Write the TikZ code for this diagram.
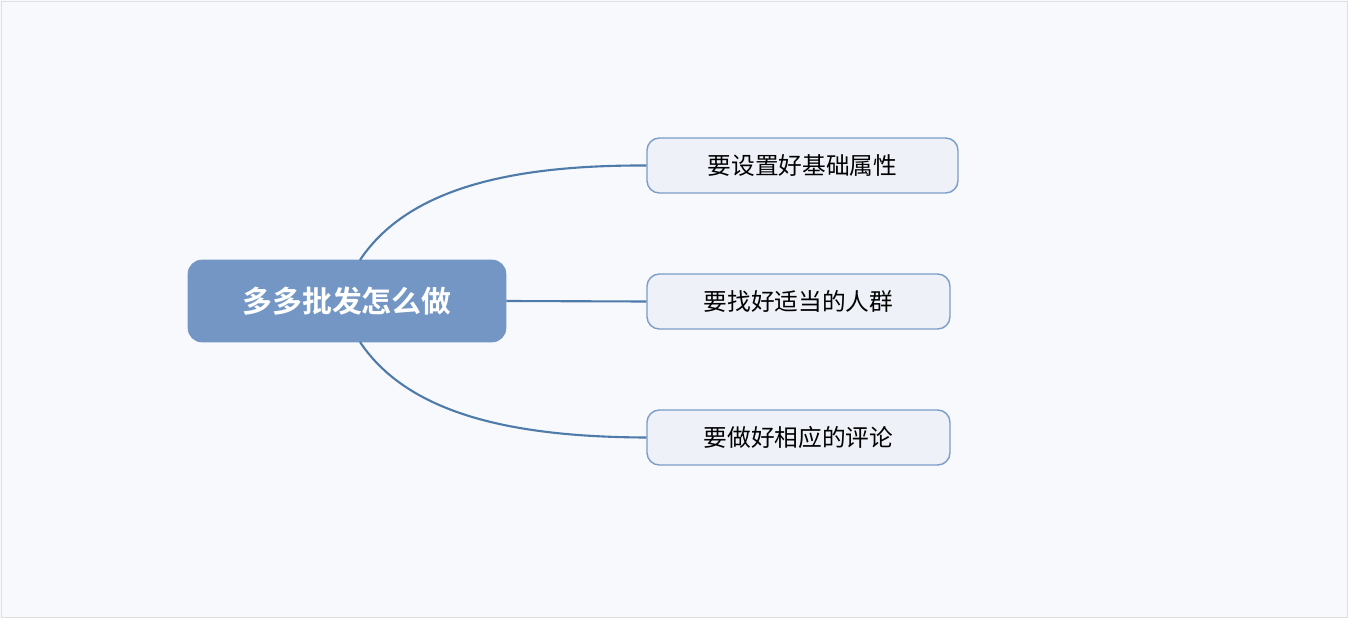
\documentclass[tikz,border=0pt]{standalone}
\usepackage{fontspec}
\newfontfamily\cjk{Noto Sans CJK SC}
\newfontfamily\cjkbold{Noto Sans CJK SC Bold}
\usetikzlibrary{positioning}
\definecolor{rootfill}{HTML}{7396C4}
\definecolor{leaffill}{HTML}{EEF2F8}
\definecolor{leafline}{HTML}{7A9CC8}
\definecolor{linkcol}{HTML}{4F7BAA}
\definecolor{bgcol}{HTML}{F8F9FC}
\tikzset{
  root/.style={draw=rootfill,fill=rootfill,rounded corners=8pt,minimum width=6.36cm,minimum height=1.64cm,text=white,font=\cjkbold\fontsize{17}{20}\selectfont},
  leaf/.style={draw=leafline,fill=leaffill,rounded corners=7pt,minimum height=1.1cm,font=\cjk\fontsize{13.5}{16}\selectfont,line width=0.8pt},
  link/.style={draw=linkcol,line width=1.2pt}
}
\begin{document}
\begin{tikzpicture}[x=0.02cm,y=-0.02cm]
\useasboundingbox (0,0) rectangle (1348,618);
\fill[bgcol] (0,0) rectangle (1348,618);
\draw[gray!25] (1,1) rectangle (1347,617);
\node[root] (main) at (347,301) {多多批发怎么做};
\node[leaf,minimum width=6.22cm] (attr) at (802.5,165.5) {要设置好基础属性};
\node[leaf,minimum width=6.06cm] (crowd) at (798.5,301.5) {要找好适当的人群};
\node[leaf,minimum width=6.06cm] (review) at (798.5,437.5) {要做好相应的评论};
\coordinate (topstart) at (360,260);
\coordinate (botstart) at (360,342);
\draw[link] (topstart) .. controls (410,185) and (520,165) .. (attr.west);
\draw[link] (main.east) -- (crowd.west);
\draw[link] (botstart) .. controls (410,417) and (520,437) .. (review.west);
\end{tikzpicture}
\end{document}
